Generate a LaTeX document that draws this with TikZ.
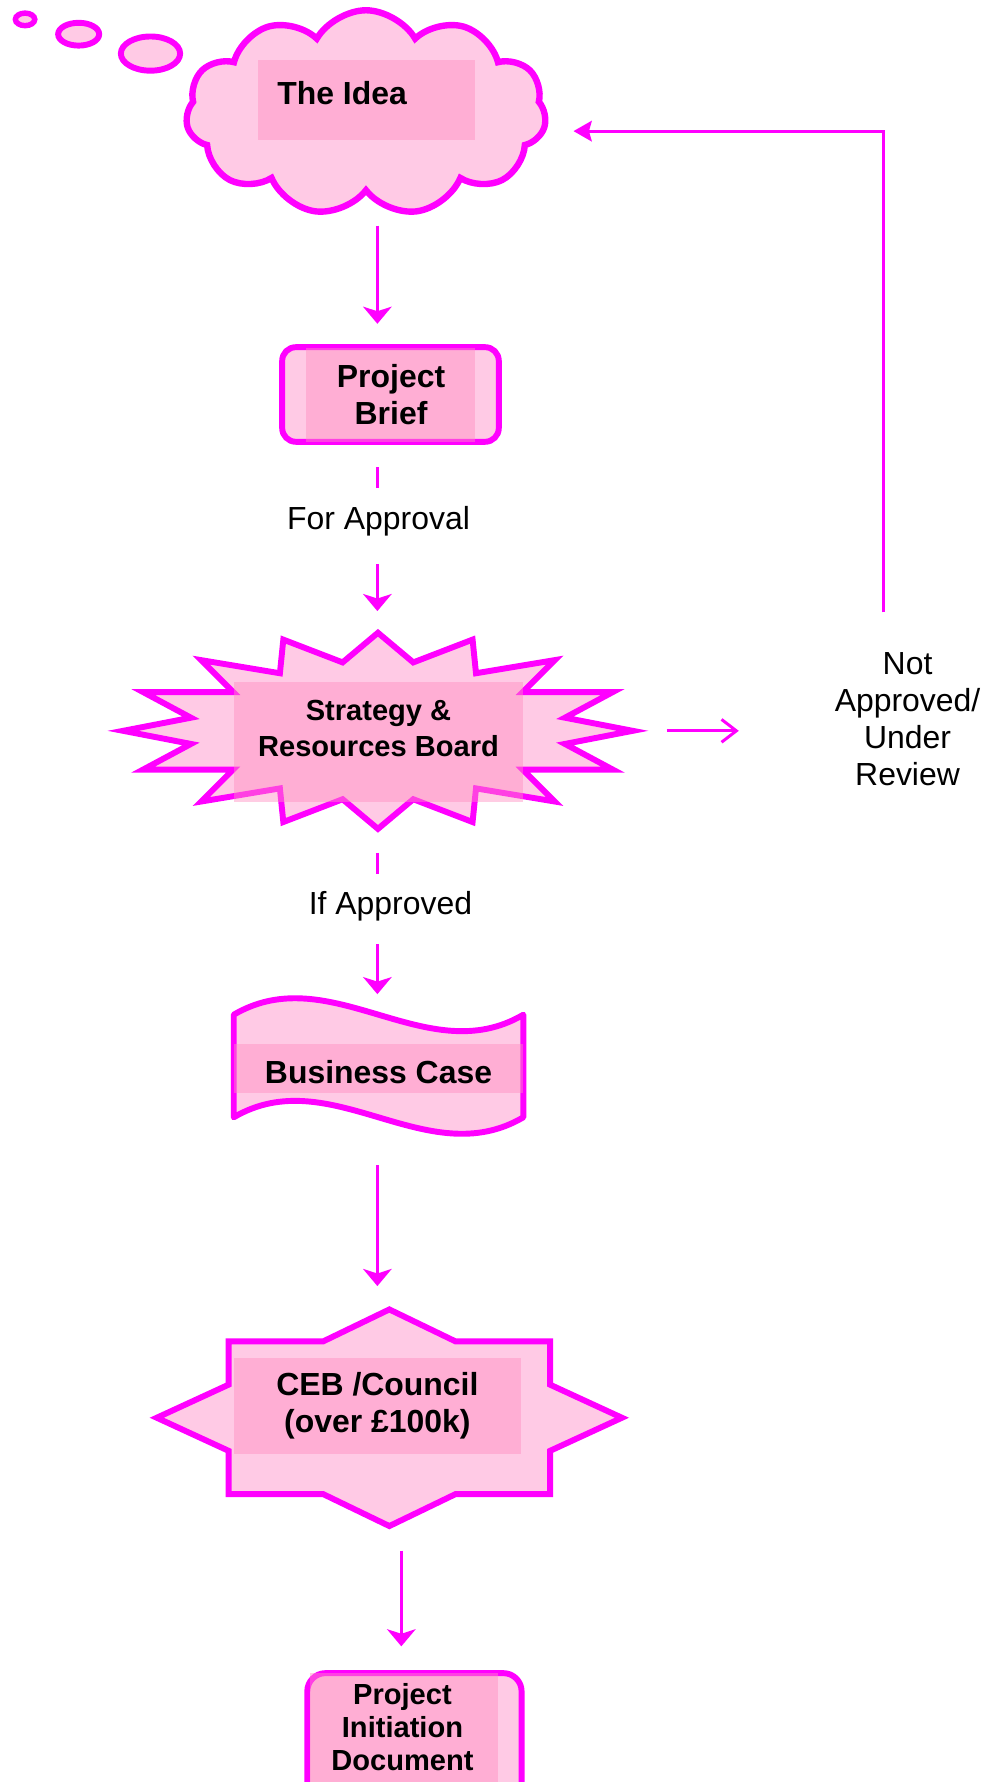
\documentclass[tikz,border=0pt]{standalone}
\usepackage{fontspec}
\setmainfont{Liberation Sans}
\usetikzlibrary{shapes.symbols,arrows.meta}
\definecolor{mag}{HTML}{FF00FF}
\definecolor{lpink}{RGB}{255,202,229}
\definecolor{rpink}{RGB}{255,142,193}
\begin{document}
\begin{tikzpicture}[x=0.5pt,y=-0.5pt,
  shp/.style={draw=mag, fill=lpink, line width=2.6pt, line join=miter},
  inrect/.style={fill=rpink, fill opacity=0.45, draw=none},
  arr/.style={draw=mag, line width=1.5pt, -{Stealth[length=7.5pt,width=12.5pt,inset=2pt]}},
  seg/.style={draw=mag, line width=1.5pt},
  thinln/.style={draw=mag, line width=1.3pt},
  lbl/.style={font=\fontsize{14}{16.2}\selectfont, align=center, inner sep=0pt},
  blbl/.style={font=\fontsize{14}{16.5}\selectfont\bfseries, align=center, inner sep=0pt},
]
\useasboundingbox (0,0) rectangle (872,1563);
\clip (0,0) rectangle (872,1563);

% thought bubbles
\draw[shp, line width=2.4pt] (22,17) ellipse [x radius=4.25pt, y radius=2.75pt];
\draw[shp, line width=2.6pt] (69,30) ellipse [x radius=9pt, y radius=5pt];
\draw[shp, line width=2.6pt] (132,47) ellipse [x radius=13pt, y radius=7.5pt];

% cloud
\node[cloud, cloud puffs=11, cloud puff arc=120, aspect=1.8, draw=mag, fill=lpink,
      line width=2.8pt, minimum width=158pt, minimum height=90pt, inner sep=0pt] (idea) at (321,99) {};
\fill[inrect] (226,53) rectangle (417,123);
\node[blbl] (ideat) at (300,82) {The Idea};

% arrow 1
\coordinate (a1s) at (331,198);
\coordinate (a1e) at (331,284);
\draw[arr] (a1s) -- (a1e);

% project brief
\node[shp, rounded corners=6pt, minimum width=95pt, minimum height=41.5pt, inner sep=0pt] (briefbox) at (342.5,346) {};
\fill[inrect] (268,305) rectangle (417,388);
\node[blbl] (brief) at (343,346) {Project\\Brief};

% for approval
\coordinate (s1a) at (331,410);
\coordinate (s1b) at (331,428);
\draw[seg] (s1a) -- (s1b);
\node[lbl] (forapp) at (332,457) {For Approval};
\coordinate (a2s) at (331,495);
\coordinate (a2e) at (331,536);
\draw[arr] (a2s) -- (a2e);

% strategy star
\draw[shp] (331.5,555) -- (362.5,581) -- (414.5,561) -- (417.5,590.5) -- (486.5,579) -- (458.5,607)
 -- (537.5,607) -- (495.5,629.5) -- (555,641) -- (495.5,652.5) -- (537.5,675) -- (458.5,675)
 -- (486.5,703) -- (417.5,691.5) -- (414.5,721) -- (362.5,701) -- (331.5,727) -- (300.5,701)
 -- (248.5,721) -- (245.5,691.5) -- (176.5,703) -- (204.5,675) -- (125.5,675) -- (167.5,652.5)
 -- (108,641) -- (167.5,629.5) -- (125.5,607) -- (204.5,607) -- (176.5,579) -- (245.5,590.5)
 -- (248.5,561) -- (300.5,581) -- cycle;
\fill[inrect] (205,598) rectangle (459,703);
\node[blbl, font=\fontsize{12.75}{15.5}\selectfont\bfseries] (srb) at (332,639) {Strategy \&\\Resources Board};

% not approved
\coordinate (r1s) at (585,641);
\coordinate (r1e) at (648,641);
\draw[thinln, -{Straight Barb[length=6.5pt,width=10pt]}] (r1s) -- (r1e);
\node[lbl] (notapp) at (796,631) {Not\\Approved/\\Under\\Review};
\coordinate (fbs) at (775,537);
\coordinate (fbe) at (503,115);
\draw[thinln, -{Stealth[length=8pt,width=9pt,inset=1.2pt]}] (fbs) |- (fbe);

% if approved
\coordinate (s2a) at (331,748);
\coordinate (s2b) at (331,767);
\draw[seg] (s2a) -- (s2b);
\node[lbl] (ifapp) at (342.5,795) {If Approved};
\coordinate (a3s) at (331,828);
\coordinate (a3e) at (331,872);
\draw[arr] (a3s) -- (a3e);

% business case
\draw[shp, line join=round] (205,890) .. controls (290,840) and (374,940) .. (459,890) -- (459,980)
  .. controls (374,1030) and (290,930) .. (205,980) -- cycle;
\fill[inrect] (205,916) rectangle (459,959);
\node[blbl] (bc) at (332,940) {Business Case};

% arrow 4
\coordinate (a4s) at (331,1022);
\coordinate (a4e) at (331,1128);
\draw[arr] (a4s) -- (a4e);

% CEB
\draw[shp] (341.5,1148.5) -- (283.5,1176.5) -- (200.5,1176.5) -- (200.5,1214.5) -- (137.5,1243.5)
 -- (200.5,1272.5) -- (200.5,1310.5) -- (283.5,1310.5) -- (341.5,1338.5) -- (399.5,1310.5)
 -- (482.5,1310.5) -- (482.5,1272.5) -- (545.5,1243.5) -- (482.5,1214.5) -- (482.5,1176.5)
 -- (399.5,1176.5) -- cycle;
\fill[inrect] (205.5,1191) rectangle (457,1275);
\node[blbl] (ceb) at (331,1233) {CEB /Council\\(over £100k)};

% arrow 5
\coordinate (a5s) at (352,1360);
\coordinate (a5e) at (352,1444);
\draw[arr] (a5s) -- (a5e);

% PID
\draw[shp, rounded corners=8pt] (269.5,1467.5) rectangle (457.5,1610);
\fill[inrect] (272,1467) rectangle (437,1610);
\node[blbl, font=\fontsize{12.75}{14.5}\selectfont\bfseries] (pid) at (353,1515) {Project\\Initiation\\Document};
\end{tikzpicture}
\end{document}
